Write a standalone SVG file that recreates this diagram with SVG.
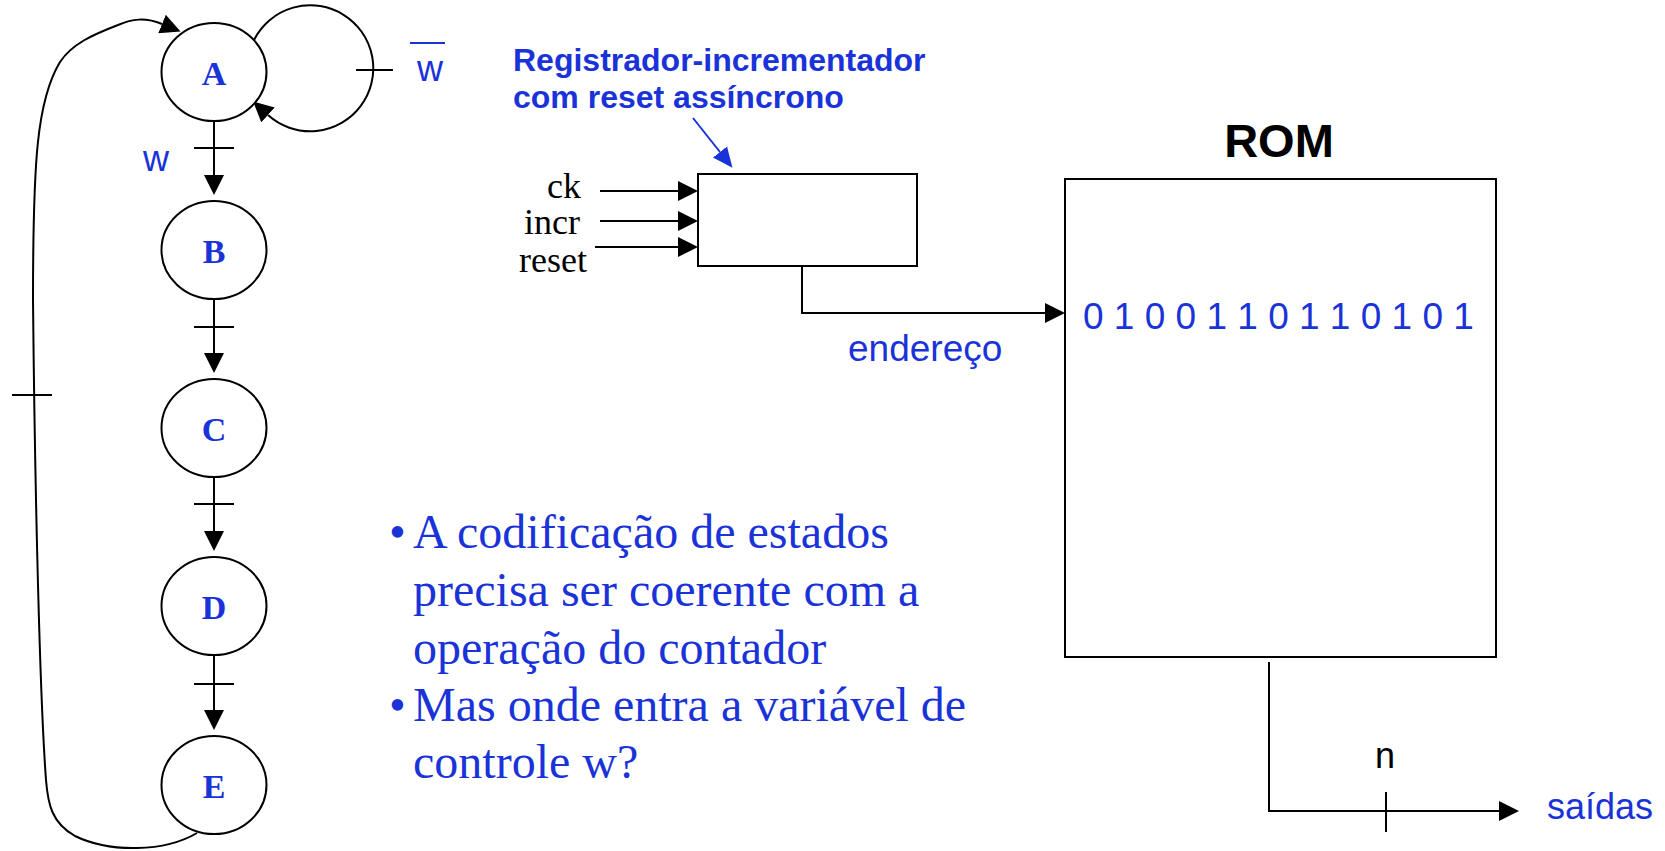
<svg xmlns="http://www.w3.org/2000/svg" width="1665" height="851" viewBox="0 0 1665 851">
<style>
.ln{fill:none;stroke:#000;stroke-width:2}
.bl{fill:none;stroke:#1a33d9;stroke-width:2}
.st{fill:#fff;stroke:#000;stroke-width:2}
.sl{font-family:"Liberation Serif","Times New Roman",serif;font-weight:bold;font-size:34px;fill:#1a33d9;text-anchor:middle}
.sa{font-family:"Liberation Sans",Arial,sans-serif;font-size:36px;fill:#1a33d9}
.sk{font-family:"Liberation Sans",Arial,sans-serif;font-size:36px;fill:#000}
.tm{font-family:"Liberation Serif","Times New Roman",serif;font-size:36px;fill:#000;text-anchor:end}
.bt{font-family:"Liberation Serif","Times New Roman",serif;font-size:48px;fill:#1a33d9}
.an{font-family:"Liberation Sans",Arial,sans-serif;font-weight:bold;font-size:32px;fill:#1a33d9}
</style>
<defs>
<marker id="ah" markerUnits="userSpaceOnUse" viewBox="0 0 20 20" refX="0" refY="10" markerWidth="20" markerHeight="20" orient="auto">
<path d="M0,0 L20,10 L0,20 z" fill="#000"/>
</marker>
<marker id="ahb" markerUnits="userSpaceOnUse" viewBox="0 0 20 20" refX="0" refY="10" markerWidth="20" markerHeight="20" orient="auto">
<path d="M0,1 L20,10 L0,19 z" fill="#1a33d9"/>
</marker>
</defs>

<g id="connectors">
<line class="ln" x1="214" y1="121" x2="214" y2="175" marker-end="url(#ah)"/>
<line class="ln" x1="194" y1="148" x2="234" y2="148"/>
<line class="ln" x1="214" y1="299" x2="214" y2="353" marker-end="url(#ah)"/>
<line class="ln" x1="194" y1="327" x2="234" y2="327"/>
<line class="ln" x1="214" y1="477" x2="214" y2="531" marker-end="url(#ah)"/>
<line class="ln" x1="194" y1="504" x2="234" y2="504"/>
<line class="ln" x1="214" y1="655" x2="214" y2="710" marker-end="url(#ah)"/>
<line class="ln" x1="194" y1="684" x2="234" y2="684"/>
<path class="ln" d="M254,40 A63,63 0 1 1 268,115" marker-end="url(#ah)"/>
<line class="ln" x1="356" y1="70" x2="393" y2="70"/>
<path class="ln" d="M197,833 C165,852 110,853 75,836 C52,823 48,805 46,780 C40,700 35,500 33,300 C33,160 37,100 60,62 C72,44 92,35 118,25 C132,19 145,17 162,24" marker-end="url(#ah)"/>
<line class="ln" x1="12" y1="395" x2="52" y2="395"/>
<line class="ln" x1="600" y1="191" x2="678" y2="191" marker-end="url(#ah)"/>
<line class="ln" x1="600" y1="221" x2="678" y2="221" marker-end="url(#ah)"/>
<line class="ln" x1="595" y1="247" x2="678" y2="247" marker-end="url(#ah)"/>
<polyline class="ln" points="802,266 802,313 1045,313" marker-end="url(#ah)"/>
<polyline class="ln" points="1269,662 1269,811 1499,811" marker-end="url(#ah)"/>
<line class="ln" x1="1386" y1="792" x2="1386" y2="832"/>
<line class="bl" x1="693" y1="118" x2="720" y2="152" marker-end="url(#ahb)"/>
</g>

<g id="A"><ellipse class="st" cx="214" cy="72" rx="52.5" ry="49"/><text class="sl" x="214" y="85">A</text></g>
<g id="B"><ellipse class="st" cx="214" cy="250" rx="52.5" ry="49"/><text class="sl" x="214" y="263">B</text></g>
<g id="C"><ellipse class="st" cx="214" cy="428" rx="52.5" ry="49"/><text class="sl" x="214" y="441">C</text></g>
<g id="D"><ellipse class="st" cx="214" cy="606" rx="52.5" ry="49"/><text class="sl" x="214" y="619">D</text></g>
<g id="E"><ellipse class="st" cx="214" cy="785" rx="52.5" ry="49"/><text class="sl" x="214" y="798">E</text></g>

<g id="labels">
<text class="sa" x="143" y="171">w</text>
<text class="sa" x="417" y="81">w</text>
<line x1="410" y1="43" x2="445" y2="43" stroke="#1a33d9" stroke-width="2"/>
</g>

<g id="register">
<rect class="st" x="698" y="174" width="219" height="92"/>
<text class="tm" x="581" y="198">ck</text>
<text class="tm" x="580" y="234">incr</text>
<text class="tm" x="587" y="272">reset</text>
</g>

<g id="annotation">
<text class="an" x="513" y="71">Registrador-incrementador</text>
<text class="an" x="513" y="108">com reset assíncrono</text>
</g>

<g id="ROM">
<text x="1279" y="157" font-family="'Liberation Sans',Arial,sans-serif" font-weight="bold" font-size="47" text-anchor="middle" fill="#000">ROM</text>
<rect class="st" x="1065" y="179" width="431" height="478"/>
<text class="sa" x="1083" y="329" style="font-size:37px">0 1 0 0 1 1 0 1 1 0 1 0 1</text>
</g>

<text class="sa" x="848" y="361" style="font-size:37px">endereço</text>
<text class="sk" x="1375" y="768">n</text>
<text class="sa" x="1547" y="819">saídas</text>

<g id="bullets">
<text class="bt" x="389" y="548">•</text>
<text class="bt" x="413" y="548">A codificação de estados</text>
<text class="bt" x="413" y="606">precisa ser coerente com a</text>
<text class="bt" x="413" y="664">operação do contador</text>
<text class="bt" x="389" y="721">•</text>
<text class="bt" x="413" y="721">Mas onde entra a variável de</text>
<text class="bt" x="413" y="778">controle w?</text>
</g>
</svg>
